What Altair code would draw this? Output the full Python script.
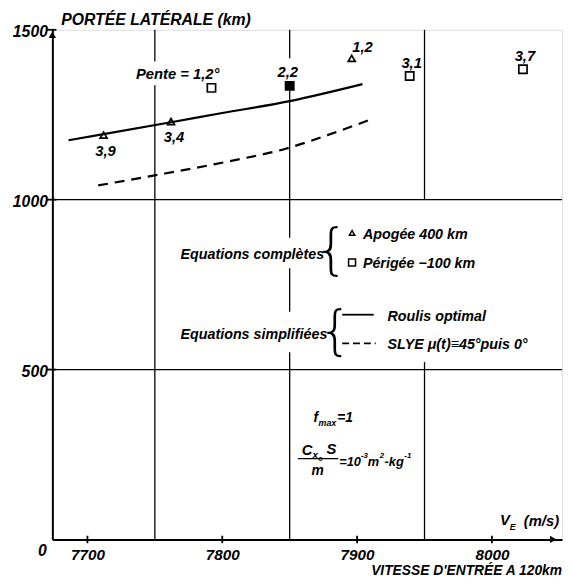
import altair as alt
import pandas as pd

# ---------------- data ----------------
roulis_v = [7686, 7712, 7762, 7800, 7850, 7904]
roulis_p = [1175, 1193, 1228, 1255, 1290, 1340]
slye_v = [7708, 7752, 7805, 7847, 7878, 7908]
slye_p = [1042, 1073, 1113, 1150, 1190, 1233]

apogee_v = [7712, 7762, 7896]
apogee_p = [1190, 1230, 1416]
apogee_lab = ["3,9", "3,4", "1,2"]

perigee_v = [7792, 7850, 7939, 8023]
perigee_p = [1329, 1335, 1364, 1384]
perigee_lab = ["Pente = 1,2°", "2,2", "3,1", "3,7"]

x_ticks = [7700, 7800, 7900, 8000]
y_ticks = [500, 1000, 1500]
x_dom = [7674, 8052]
y_dom = [0, 1500]

# grid segments (vertical lines between ticks, interrupted behind text)
vgrid_v = [7750, 7750, 7850, 7850, 7850, 7850, 7950, 7950]
vgrid_p1 = [0, 1407, 0, 670, 888, 1416, 0, 1000]
vgrid_p2 = [1337, 1500, 551, 798, 1349, 1500, 522, 1500]
hgrid_p = [500, 1000]

# ---------------- style ----------------
FONT = "Liberation Sans"
W, H = 517, 517
OX, OY = 53, 26  # plot origin on the page
INK = "black"

apogee_off = [(2, 16, "center"), (3, 16, "center"), (11, -11, "center")]
perigee_off = [(8, -14, "right"), (-2, -14, "center"), (2, -13, "center"), (2, -13, "center")]
perigee_fill = ["white", "black", "white", "white"]

xs = alt.Scale(domain=x_dom, nice=False, zero=False)
ys = alt.Scale(domain=y_dom, nice=False, zero=False)
xaxis = alt.Axis(values=x_ticks, grid=False, tickSize=0, labelPadding=8, format="d",
                 labelFont=FONT, labelFontStyle="italic", labelFontWeight="bold",
                 labelFontSize=15.5, labelColor=INK, domainColor=INK, domainWidth=2,
                 labelFlush=False, title=None)
yaxis = alt.Axis(values=y_ticks, grid=False, tickSize=0, labelPadding=5, format="d",
                 labelFont=FONT, labelFontStyle="italic", labelFontWeight="bold",
                 labelFontSize=16, labelColor=INK, domainColor=INK, domainWidth=2,
                 labelOffset=2, labelFlush=False, title=None)


def X(f="v"):
    return alt.X(f"{f}:Q", scale=xs, axis=xaxis, title=None)


def Y(f="p"):
    return alt.Y(f"{f}:Q", scale=ys, axis=yaxis, title=None)


def txt(s, px, py, size=14, align="left", weight="bold", style="italic", font=FONT,
        baseline="middle"):
    return alt.Chart(pd.DataFrame({"t": [s]})).mark_text(
        font=font, fontSize=size, fontWeight=weight, fontStyle=style, align=align,
        baseline=baseline, color=INK
    ).encode(x=alt.value(px - OX), y=alt.value(py - OY), text="t:N")


layers = []

# vertical grid segments
vg = pd.DataFrame({"v": vgrid_v, "p": vgrid_p1, "p2": vgrid_p2})
layers.append(alt.Chart(vg).mark_rule(color=INK, strokeWidth=1.3).encode(
    x=X(), y=Y(), y2="p2:Q"))
# horizontal grid
hg = pd.DataFrame({"p": hgrid_p})
layers.append(alt.Chart(hg).mark_rule(color=INK, strokeWidth=1.3).encode(y=Y()))

# crossing tick marks
xt = pd.DataFrame({"v": x_ticks, "p": [-11] * len(x_ticks), "p2": [11] * len(x_ticks)})
layers.append(alt.Chart(xt).mark_rule(color=INK, strokeWidth=1.8).encode(
    x=X(), y=Y(), y2="p2:Q"))
yt = pd.DataFrame({"p": y_ticks, "v": [7670] * len(y_ticks), "v2": [7677] * len(y_ticks)})
layers.append(alt.Chart(yt).mark_rule(color=INK, strokeWidth=1.8).encode(
    y=Y(), x=X(), x2="v2:Q"))

# arrows
layers.append(alt.Chart(pd.DataFrame({"a": [0]})).mark_point(
    shape="triangle-up", filled=True, color=INK, size=55, opacity=1).encode(
    x=alt.value(0), y=alt.value(5)))
layers.append(alt.Chart(pd.DataFrame({"a": [0]})).mark_point(
    shape="triangle-right", filled=True, color=INK, size=55, opacity=1).encode(
    x=alt.value(W - 9), y=alt.value(H)))

# curves
rd = pd.DataFrame({"v": roulis_v, "p": roulis_p})
layers.append(alt.Chart(rd).mark_line(color=INK, strokeWidth=2.2, interpolate="monotone").encode(
    x=X(), y=Y()))
sd = pd.DataFrame({"v": slye_v, "p": slye_p})
layers.append(alt.Chart(sd).mark_line(color=INK, strokeWidth=2.2, interpolate="monotone",
                                      strokeDash=[10, 7]).encode(x=X(), y=Y()))

# markers
ad = pd.DataFrame({"v": apogee_v, "p": apogee_p})
layers.append(alt.Chart(ad).mark_point(shape="triangle-up", filled=False, stroke=INK,
                                       strokeWidth=1.7, size=50, opacity=1).encode(x=X(), y=Y()))
for v, p, fill in zip(perigee_v, perigee_p, perigee_fill):
    layers.append(alt.Chart(pd.DataFrame({"v": [v], "p": [p]})).mark_point(
        shape="square", filled=True, fill=fill, stroke=INK, strokeWidth=1.7, size=70,
        opacity=1).encode(x=X(), y=Y()))

# marker labels
for v, p, lab, (dx, dy, al) in list(zip(apogee_v, apogee_p, apogee_lab, apogee_off)) + \
        list(zip(perigee_v, perigee_p, perigee_lab, perigee_off)):
    layers.append(alt.Chart(pd.DataFrame({"v": [v], "p": [p], "t": [lab]})).mark_text(
        font=FONT, fontSize=15, fontWeight="bold", fontStyle="italic", align=al,
        baseline="middle", dx=dx, dy=dy, color=INK).encode(x=X(), y=Y(), text="t:N"))

# axis titles
layers.append(txt("PORTÉE LATÉRALE (km)", 62, 16, size=16))
layers.append(txt("0", 43, 555, size=16, align="center"))
layers.append(txt("V", 507, 523, size=15))
layers.append(txt("E", 517, 530, size=9))
layers.append(txt("(m/s)", 567, 524, size=15, align="right"))
layers.append(txt("VITESSE D'ENTRÉE A 120km", 570, 575, size=14, align="right"))

# legend block
layers.append(txt("Equations complètes", 183, 255, size=14.5))
layers.append(txt("{", 336, 251, size=56, align="center", weight=200, style="normal",
                  font="DejaVu Sans"))
layers.append(alt.Chart(pd.DataFrame({"a": [0]})).mark_point(
    shape="triangle-up", filled=False, stroke=INK, strokeWidth=1.5, size=30, opacity=1).encode(
    x=alt.value(357 - OX), y=alt.value(232 - OY)))
layers.append(txt("Apogée  400 km", 368, 234, size=14.5))
layers.append(alt.Chart(pd.DataFrame({"a": [0]})).mark_point(
    shape="square", filled=False, stroke=INK, strokeWidth=1.5, size=50, opacity=1).encode(
    x=alt.value(357 - OX), y=alt.value(262 - OY)))
layers.append(txt("Périgée −100 km", 368, 264, size=14.5))

layers.append(txt("Equations simplifiées", 183, 336, size=14.5))
layers.append(txt("{", 340, 334, size=54, align="center", weight=200, style="normal",
                  font="DejaVu Sans"))
layers.append(alt.Chart(pd.DataFrame({"a": [0]})).mark_rule(color=INK, strokeWidth=1.8).encode(
    x=alt.value(347 - OX), x2=alt.value(379 - OX), y=alt.value(315 - OY)))
layers.append(txt("Roulis optimal", 393, 317, size=14.5))
layers.append(alt.Chart(pd.DataFrame({"a": [0]})).mark_rule(
    color=INK, strokeWidth=1.8, strokeDash=[7, 4]).encode(
    x=alt.value(347 - OX), x2=alt.value(381 - OX), y=alt.value(344 - OY)))
layers.append(txt("SLYE  μ(t)≡45°puis 0°", 393, 346, size=14.5))

# formula
layers.append(txt("f", 318, 420, size=14))
layers.append(txt("max", 323, 425, size=9))
layers.append(txt("=1", 342, 420, size=14))
layers.append(txt("C", 306, 452, size=15))
layers.append(txt("x", 317, 457, size=10))
layers.append(txt("o", 323, 461, size=7))
layers.append(txt("S", 331, 451, size=15))
layers.append(alt.Chart(pd.DataFrame({"a": [0]})).mark_rule(color=INK, strokeWidth=1.5).encode(
    x=alt.value(302 - OX), x2=alt.value(343 - OX), y=alt.value(461 - OY)))
layers.append(txt("m", 322, 474, size=14, align="center"))
layers.append(txt("=10", 344, 464, size=13))
layers.append(txt("-3", 366, 458, size=8))
layers.append(txt("m", 373, 464, size=13))
layers.append(txt("2", 385, 458, size=8))
layers.append(txt("-kg", 390, 464, size=13))
layers.append(txt("-1", 410, 458, size=8))

chart = alt.layer(*layers).properties(
    width=W, height=H,
    padding={"left": 45, "top": 18, "right": 3, "bottom": 36},
    autosize=alt.AutoSizeParams(type="none"),
).configure_view(stroke=INK, strokeWidth=1.6).configure(background="white")

chart.save("out.html", embed_options={"renderer": "svg", "actions": False})
